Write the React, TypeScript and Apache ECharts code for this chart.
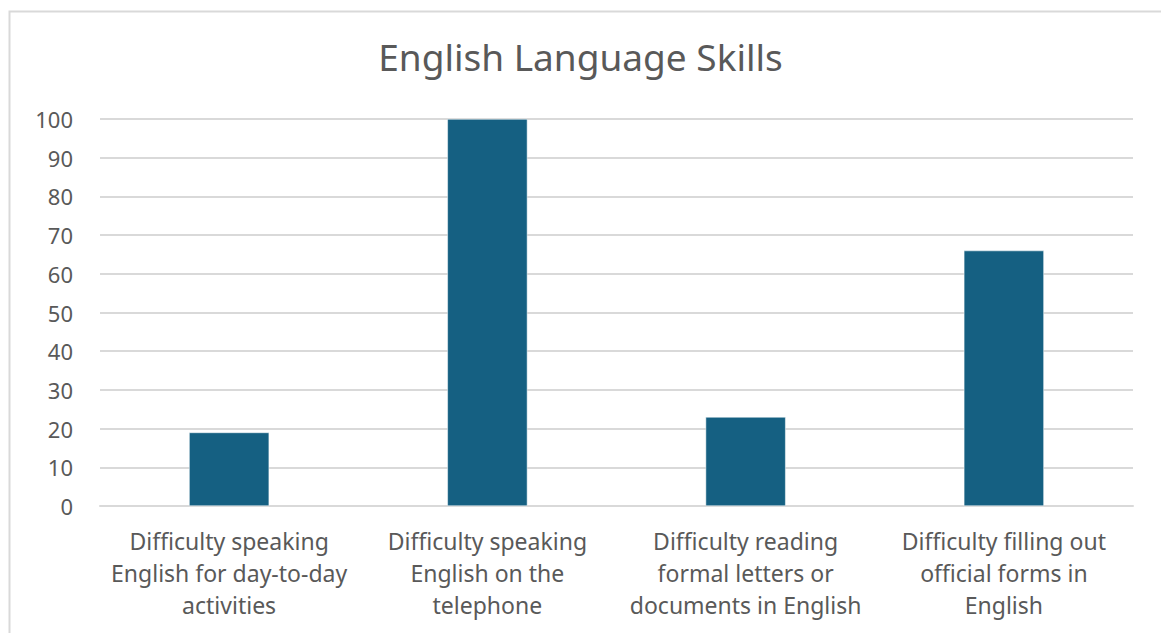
import React, { useEffect, useRef } from "react";
import * as echarts from "echarts";

const categories = [
  "Difficulty speaking\nEnglish for day-to-day\nactivities",
  "Difficulty speaking\nEnglish on the\ntelephone",
  "Difficulty reading\nformal letters or\ndocuments in English",
  "Difficulty filling out\nofficial forms in\nEnglish",
];
const values = [19, 100, 23, 66];
const titleText = "English Language Skills";

export default function App() {
  const ref = useRef<HTMLDivElement>(null);
  useEffect(() => {
    if (!ref.current) return;
    const chart = echarts.init(ref.current, undefined, { renderer: "svg" });
    const font = "'Noto Sans', 'Open Sans', sans-serif";
    chart.setOption({
      animation: false,
      backgroundColor: "#ffffff",
      title: {
        text: titleText,
        left: "center",
        top: 33,
        textStyle: { fontFamily: font, fontSize: 37, fontWeight: "normal", color: "#595959" },
      },
      graphic: [
        {
          type: "rect",
          shape: { x: 9.5, y: 11.5, width: 1200, height: 700 },
          style: { fill: "none", stroke: "#d9d9d9", lineWidth: 2 },
          silent: true,
        },
      ],
      grid: { left: 100, right: 28, top: 119, bottom: 127 },
      xAxis: {
        type: "category",
        data: categories,
        axisTick: { show: false },
        axisLine: { lineStyle: { color: "#d9d9d9", width: 2 } },
        axisLabel: {
          interval: 0,
          margin: 19,
          fontFamily: font,
          fontSize: 23,
          lineHeight: 32,
          color: "#595959",
          align: "center",
        },
      },
      yAxis: {
        type: "value",
        min: 0,
        max: 100,
        interval: 10,
        axisLine: { show: false },
        axisTick: { show: false },
        splitLine: { lineStyle: { color: "#d9d9d9", width: 2 } },
        axisLabel: { margin: 27, fontFamily: font, fontSize: 22, color: "#595959" },
      },
      series: [
        {
          type: "bar",
          data: values,
          barWidth: "31%",
          itemStyle: { color: "#156082", borderColor: "#ffffff", borderWidth: 0.5 },
        },
      ],
    });
    return () => chart.dispose();
  }, []);
  return (
    <div
      ref={ref}
      style={{ position: "fixed", left: 0, top: 0, width: 1161, height: 633 }}
    />
  );
}
